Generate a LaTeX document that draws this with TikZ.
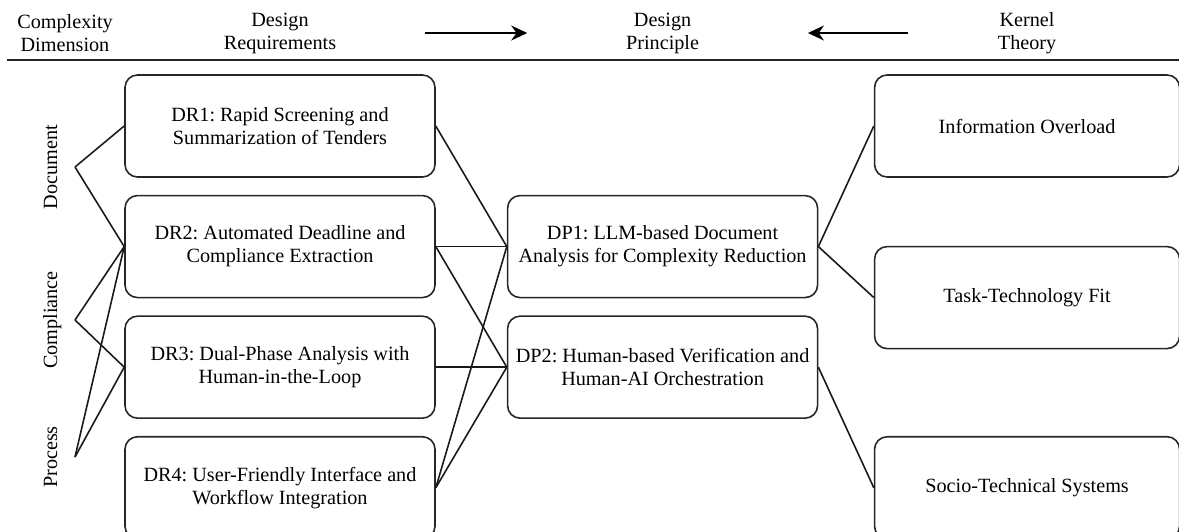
\documentclass[tikz,border=0pt]{standalone}
\usepackage{fontspec}
\setmainfont{Liberation Serif}
\frenchspacing
\usetikzlibrary{arrows.meta,positioning,calc}

\begin{document}
\begin{tikzpicture}[
  font=\fontsize{11.5}{13.1}\selectfont,
  dr/.style={draw=black!85, line width=0.9pt, rounded corners=2.5mm, align=center, minimum width=6.2cm, minimum height=2.04cm, inner sep=3pt},
  kt/.style={dr, minimum width=6.1cm},
  head/.style={align=center, inner sep=2pt},
  dim/.style={rotate=90, anchor=base, inner sep=0pt},
  link/.style={black!90, line width=0.9pt},
  arr/.style={-{Stealth[length=3.2mm, width=3mm]}, line width=0.9pt, black},
  rule/.style={black!85, line width=1.1pt}]
\useasboundingbox (0,0) rectangle (23.58,-10.62);
\node[dr] (dr1) at (5.6,-2.52) {DR1: Rapid Screening and\\Summarization of Tenders};
\node[dr, below=0.34cm of dr1] (dr2) {DR2: Automated Deadline and\\Compliance Extraction};
\node[dr, below=0.34cm of dr2] (dr3) {DR3: Dual-Phase Analysis with\\Human-in-the-Loop};
\node[dr, below=0.34cm of dr3] (dr4) {DR4: User-Friendly Interface and\\Workflow Integration};
\node[dr, right=1.42cm of dr2] (dp1) {DP1: LLM-based Document\\Analysis for Complexity Reduction};
\node[dr, right=1.42cm of dr3] (dp2) {DP2: Human-based Verification and\\Human-AI Orchestration};
\node[kt, right=8.76cm of dr1] (io) {Information Overload};
\node[kt, below=1.36cm of io] (ttf) {Task-Technology Fit};
\node[kt, right=8.76cm of dr4] (sts) {Socio-Technical Systems};
\node[dim] (doc) at (1.14,-3.34) {Document};
\node[dim] (comp) at (1.14,-6.4) {Compliance};
\node[dim] (proc) at (1.14,-9.14) {Process};
\coordinate (docv) at ([xshift=3.6mm]doc.base);
\coordinate (compv) at ([xshift=3.6mm]comp.base);
\coordinate (procv) at ([xshift=3.6mm]proc.base);
\node[head] (hdim) at (1.3,-0.66) {Complexity\\Dimension};
\node[head] (hreq) at (dr1 |- hdim) {Design\\Requirements};
\node[head] (hprin) at (dp1 |- hdim) {Design\\Principle};
\node[head] (hker) at (io |- hdim) {Kernel\\Theory};
\draw[arr, shorten <=1.71cm, shorten >=1.9cm] (hreq) -- (hprin);
\draw[arr, shorten <=1.72cm, shorten >=2.1cm] (hker) -- (hprin);
\draw[rule] (0.14,-1.2) -- (23.58,-1.2);
\foreach \v/\d in {docv/dr1, docv/dr2, compv/dr2, compv/dr3, procv/dr2, procv/dr3}
  \draw[link] (\v) -- (\d.west);
\foreach \d/\p in {dr1/dp1, dr2/dp1, dr2/dp2, dr3/dp2, dr4/dp1, dr4/dp2}
  \draw[link] (\d.east) -- (\p.west);
\foreach \p/\k in {dp1/io, dp1/ttf, dp2/sts}
  \draw[link] (\p.east) -- (\k.west);
\end{tikzpicture}
\end{document}
